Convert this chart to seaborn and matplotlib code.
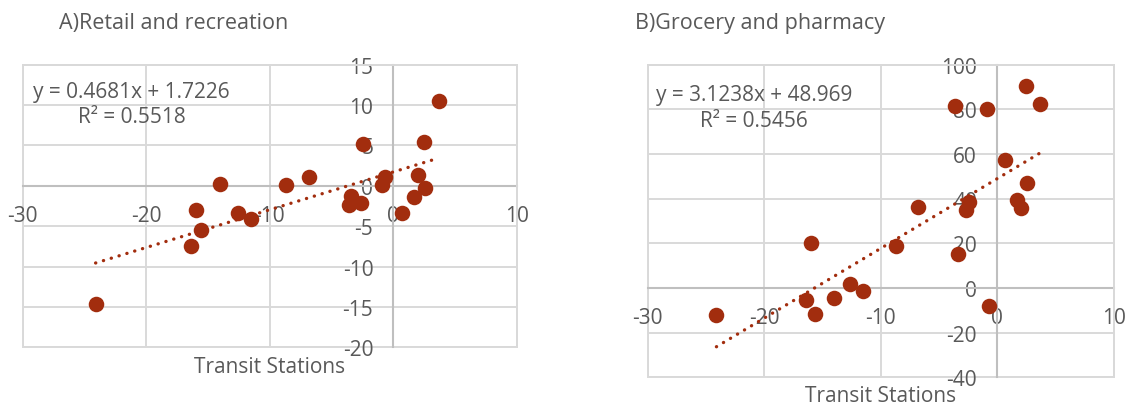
import numpy as np
import pandas as pd
import seaborn as sns
import matplotlib
matplotlib.use("Agg")
import matplotlib.pyplot as plt
from matplotlib.patches import Rectangle

# Mobility change (%) by region: transit stations vs. two destination types
transit = [-24.1, -16.4, -16.0, -15.6, -14.0, -12.6, -11.5, -8.7, -6.8, -3.4, -3.6,
           -2.65, -2.45, -0.9, -0.7, 0.7, 1.7, 2.0, 2.55, 2.5, 3.7]
retail = [-14.6, -7.4, -3.0, -5.5, 0.2, -3.4, -4.1, 0.1, 1.1, -1.2, -2.4,
          -2.1, 5.2, 0.1, 1.1, -3.4, -1.4, 1.3, -0.3, 5.4, 10.5]
grocery = [-12.2, -5.5, 20.2, -11.8, -4.5, 1.8, -1.5, 18.6, 36.2, 15.3, 81.6,
           35.1, 38.6, 80.1, -7.9, 57.5, 39.4, 36.0, 47.2, 90.5, 82.3]

# Linear trendline coefficients (slope, intercept) and R²
retail_fit = [0.4681, 1.7226]
retail_r2 = 0.5518
grocery_fit = [3.1238, 48.969]
grocery_r2 = 0.5456

titles = ["A)Retail and recreation", "B)Grocery and pharmacy"]
x_label = "Transit Stations"
x_ticks = [-30, -20, -10, 0, 10]
retail_ticks = [-20, -15, -10, -5, 0, 5, 10, 15]
grocery_ticks = [-40, -20, 0, 20, 40, 60, 80, 100]

df = pd.DataFrame({"transit": transit, "retail": retail, "grocery": grocery})

sns.set_theme(style="white")
plt.rcParams["font.family"] = ["Open Sans", "DejaVu Sans"]
plt.rcParams["axes.unicode_minus"] = False

W, H = 1131, 410
fig = plt.figure(figsize=(W / 100, H / 100), dpi=100)

TEXT = "#595959"
GRID = "#d9d9d9"
AXIS = "#bfbfbf"
DOT = "#A22D0E"
FS = 15


def px_box(x0, y0, x1, y1):
    return [x0 / W, 1 - y1 / H, (x1 - x0) / W, (y1 - y0) / H]


panels = [
    dict(col="retail", fit=retail_fit, r2=retail_r2, yticks=retail_ticks,
         box=px_box(22.7, 65.7, 517.0, 348.3), title_xy=(59, 28.5),
         eq_x=131.5, eq_y=(98, 123), label_y=-0.068),
    dict(col="grocery", fit=grocery_fit, r2=grocery_r2, yticks=grocery_ticks,
         box=px_box(647.7, 65.7, 1113.7, 378.3), title_xy=(635, 28.5),
         eq_x=754, eq_y=(101, 127), label_y=-0.057),
]

for p, title in zip(panels, titles):
    ax = fig.add_axes(p["box"])
    xs = np.array([min(transit), max(transit)])
    slope, intercept = p["fit"]
    ax.plot(xs, slope * xs + intercept, color=DOT, lw=2.4,
            linestyle=(0, (0.05, 2.4)), dash_capstyle="round", zorder=3)
    sns.scatterplot(data=df, x="transit", y=p["col"], ax=ax, color=DOT,
                    s=125, linewidth=0, zorder=4, clip_on=False)

    ax.set_xlim(x_ticks[0], x_ticks[-1])
    ax.set_ylim(p["yticks"][0], p["yticks"][-1])
    ax.set_xticks(x_ticks)
    ax.set_yticks(p["yticks"])
    ax.set_xticklabels([str(t) for t in x_ticks])
    ax.set_yticklabels([str(t) for t in p["yticks"]])
    ax.grid(True, color=GRID, lw=1.4, zorder=0)
    ax.set_axisbelow(True)

    for side in ("left", "bottom"):
        ax.spines[side].set_position(("data", 0))
        ax.spines[side].set_color(AXIS)
        ax.spines[side].set_linewidth(1.5)
        ax.spines[side].set_zorder(1)
    for side in ("top", "right"):
        ax.spines[side].set_color(GRID)
        ax.spines[side].set_linewidth(1.4)
    ax.add_patch(Rectangle((0, 0), 1, 1, transform=ax.transAxes, fill=False,
                           ec=GRID, lw=1.4, clip_on=False, zorder=0))

    ax.tick_params(axis="x", length=0, pad=13.5, labelsize=FS, labelcolor=TEXT)
    ax.tick_params(axis="y", length=0, pad=14.5, labelsize=FS, labelcolor=TEXT)

    ax.set_ylabel("")
    ax.set_xlabel(x_label, fontsize=FS, color=TEXT)
    ax.xaxis.set_label_coords(0.5, p["label_y"])
    ax.xaxis.label.set_va("center")

    fig.text(p["title_xy"][0] / W, 1 - p["title_xy"][1] / H, title,
             fontsize=15.5, color=TEXT, ha="left", va="baseline")
    eq = f"y = {slope:g}x + {intercept:g}"
    fig.text(p["eq_x"] / W, 1 - p["eq_y"][0] / H, eq, fontsize=FS,
             color=TEXT, ha="center", va="baseline")
    fig.text(p["eq_x"] / W, 1 - p["eq_y"][1] / H, f"R² = {p['r2']:g}",
             fontsize=FS, color=TEXT, ha="center", va="baseline")

fig.savefig("out.png", dpi=100)
